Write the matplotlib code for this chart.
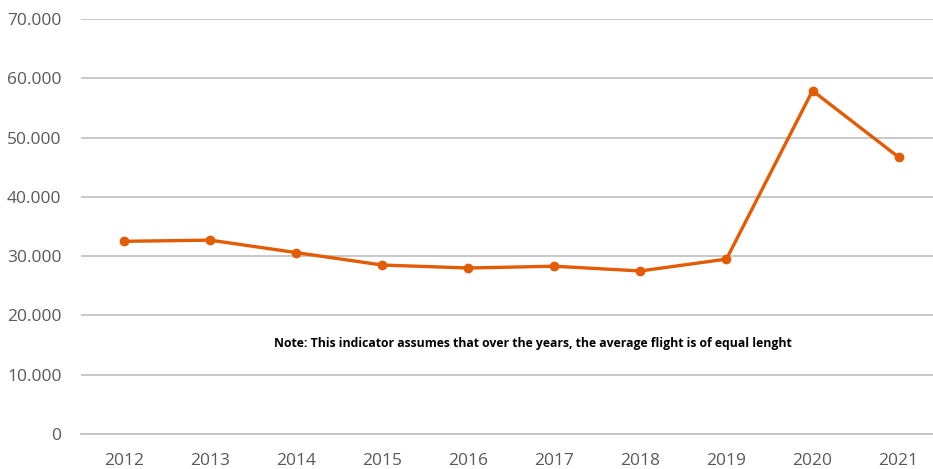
import matplotlib.pyplot as plt
from matplotlib.ticker import FuncFormatter

years = ['2012', '2013', '2014', '2015', '2016', '2017', '2018', '2019', '2020', '2021']
values = [32500, 32700, 30600, 28500, 28000, 28300, 27500, 29500, 57900, 46700]
note = 'Note: This indicator assumes that over the years, the average flight is of equal lenght'

plt.rcParams['font.family'] = ['Open Sans', 'DejaVu Sans']

fig = plt.figure(figsize=(9.33, 4.69), dpi=100)
ax = fig.add_axes([81 / 933, 35 / 469, 852 / 933, 415 / 469])

x = list(range(len(years)))
ax.plot(x, values, color='#E35B05', lw=2.4, marker='o', ms=6, zorder=3)

ax.set_ylim(0, 70000)
ax.set_yticks(range(0, 70001, 10000))
ax.yaxis.set_major_formatter(FuncFormatter(lambda v, p: '0' if v == 0 else f'{int(v):,}'.replace(',', '.')))
ax.set_xlim(-0.5, 9.4)
ax.set_xticks(x)
ax.set_xticklabels(years)

ax.grid(axis='y', color='#BFBFBF', lw=1.2)
ax.set_axisbelow(True)
for s in ['top', 'right', 'left']:
    ax.spines[s].set_visible(False)
ax.spines['bottom'].set_color('#BFBFBF')
ax.spines['bottom'].set_linewidth(1.2)
ax.tick_params(length=0, labelsize=12.5, colors='#595959')
ax.tick_params(axis='x', pad=14)
ax.tick_params(axis='y', pad=14)

ax.text(4.75, 15300, note, ha='center', va='center', fontsize=8.8, fontweight='bold', color='black')

fig.savefig('out.png')
